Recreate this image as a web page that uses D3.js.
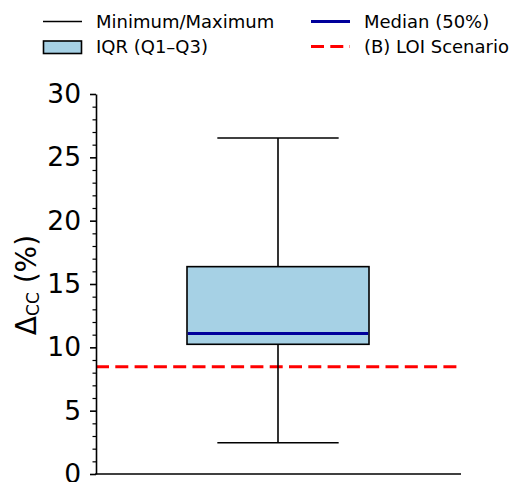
<!DOCTYPE html>
<html>
<head>
<meta charset="utf-8">
<script src="https://cdn.jsdelivr.net/npm/d3@7"></script>
<style>
  body { margin: 0; background: white; }
  svg { display: block; font-family: "DejaVu Sans", sans-serif; }
</style>
</head>
<body>
<svg id="chart" width="511" height="482"></svg>
<script>
// box statistics (Δcc, %)
const statNames = ["min", "q1", "median", "q3", "max"];
const statValues = [2.47, 10.24, 11.1, 16.37, 26.53];
// reference scenario line
const loiValue = 8.47;
// axis ticks
const yTicks = [0, 5, 10, 15, 20, 25, 30];
const yMinorTicks = d3.range(0, 31, 1).filter(v => v % 5 !== 0);
// legend entries
const legendLabels = ["Minimum/Maximum", "Median (50%)", "IQR (Q1\u2013Q3)", "(B) LOI Scenario"];

const stats = {};
statNames.forEach((n, i) => stats[n] = statValues[i]);

const svg = d3.select("#chart");

// scales
const y = d3.scaleLinear().domain([0, 30]).range([474, 94]);
const x = d3.scaleLinear().domain([0, 1]).range([96, 460]);

const boxColor = "#a6d1e5";
const medianColor = "#00009b";

// dashed scenario line, full width of the axes
svg.append("line")
    .attr("x1", x(0)).attr("x2", x(1))
    .attr("y1", y(loiValue)).attr("y2", y(loiValue))
    .style("stroke", "#ff0000")
    .style("stroke-width", 3)
    .style("stroke-dasharray", "13,6.3");

// whiskers
const g = svg.append("g");
g.append("line")
    .attr("x1", x(0.5)).attr("x2", x(0.5))
    .attr("y1", y(stats.max)).attr("y2", y(stats.q3))
    .style("stroke", "black").style("stroke-width", 1.6);
g.append("line")
    .attr("x1", x(0.5)).attr("x2", x(0.5))
    .attr("y1", y(stats.q1)).attr("y2", y(stats.min))
    .style("stroke", "black").style("stroke-width", 1.6);

// caps
[stats.min, stats.max].forEach(v => {
    g.append("line")
        .attr("x1", x(1 / 3)).attr("x2", x(2 / 3))
        .attr("y1", y(v)).attr("y2", y(v))
        .style("stroke", "black").style("stroke-width", 1.6);
});

// IQR box
g.append("rect")
    .attr("x", x(0.25))
    .attr("y", y(stats.q3))
    .attr("width", x(0.75) - x(0.25))
    .attr("height", y(stats.q1) - y(stats.q3))
    .style("fill", boxColor)
    .style("stroke", "black")
    .style("stroke-width", 1.6);

// median
g.append("line")
    .attr("x1", x(0.25) + 0.8).attr("x2", x(0.75) - 0.8)
    .attr("y1", y(stats.median)).attr("y2", y(stats.median))
    .style("stroke", medianColor).style("stroke-width", 3);

// minor ticks
svg.append("g")
    .attr("transform", "translate(" + x(0) + ",0)")
    .call(d3.axisLeft(y).tickValues(yMinorTicks).tickSize(3.5).tickFormat(""))
    .call(a => a.select(".domain").remove())
    .selectAll("line").style("stroke-width", 1.2);

// major ticks and labels
const yAxis = svg.append("g")
    .attr("transform", "translate(" + x(0) + ",0)")
    .call(d3.axisLeft(y).tickValues(yTicks).tickSize(6).tickSizeOuter(0).tickPadding(9));
yAxis.select(".domain").style("stroke-width", 1.6);
yAxis.selectAll(".tick line").style("stroke-width", 1.6);
yAxis.selectAll("text")
    .style("font-size", "26.5px")
    .style("font-family", "DejaVu Sans")
    .attr("fill", "black");

// bottom spine (no ticks)
svg.append("line")
    .attr("x1", x(0) - 0.8).attr("x2", x(1) + 1)
    .attr("y1", y(0)).attr("y2", y(0))
    .style("stroke", "black").style("stroke-width", 1.6);

// y label
const ylab = svg.append("text")
    .attr("transform", "translate(36," + ((y(0) + y(30)) / 2 + 1) + ") rotate(-90)")
    .attr("text-anchor", "middle")
    .style("font-size", "28px");
ylab.append("tspan").text("\u0394");
ylab.append("tspan").text("CC").style("font-size", "17px").attr("dy", 3);
ylab.append("tspan").text(" (%)").attr("dy", -3);

// legend
const legend = svg.append("g").style("font-size", "18px");
const cols = [43, 311];
const rows = [21.5, 46.5];
const items = [
    {col: 0, row: 0, type: "line", color: "black", width: 1.6, dash: null},
    {col: 1, row: 0, type: "line", color: medianColor, width: 3, dash: null},
    {col: 0, row: 1, type: "patch"},
    {col: 1, row: 1, type: "line", color: "#ff0000", width: 3, dash: "13,6.3"}
];
items.forEach((it, i) => {
    let cx = cols[it.col], cy = rows[it.row];
    if (it.type === "line") {
        legend.append("line")
            .attr("x1", cx).attr("x2", cx + 39)
            .attr("y1", cy).attr("y2", cy)
            .style("stroke", it.color)
            .style("stroke-width", it.width)
            .style("stroke-dasharray", it.dash);
    } else {
        legend.append("rect")
            .attr("x", cx + 0.5).attr("y", cy - 5.5)
            .attr("width", 38).attr("height", 12.5)
            .style("fill", boxColor)
            .style("stroke", "black")
            .style("stroke-width", 1.6);
    }
    legend.append("text")
        .attr("x", cx + 53)
        .attr("y", cy)
        .attr("dy", "0.36em")
        .text(legendLabels[i]);
});
</script>
</body>
</html>
